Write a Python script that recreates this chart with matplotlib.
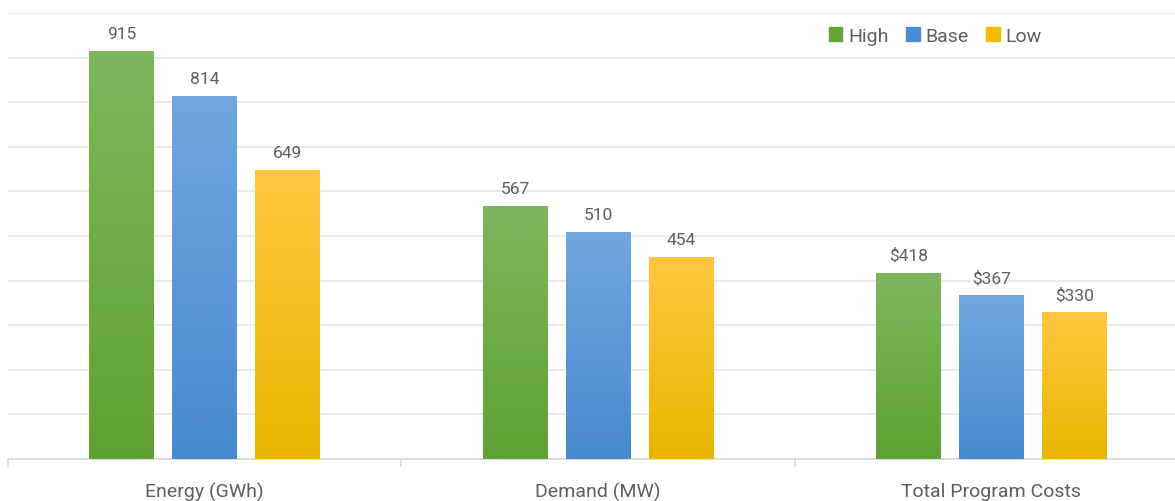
import matplotlib
matplotlib.use("Agg")
import matplotlib.pyplot as plt
import numpy as np
from matplotlib import font_manager
from matplotlib.colors import LinearSegmentedColormap
from matplotlib.patches import Rectangle

categories = ["Energy (GWh)", "Demand (MW)", "Total Program Costs"]
series_names = ["High", "Base", "Low"]
high = [915, 567, 418]
base = [814, 510, 367]
low = [649, 454, 330]
label_fmt = ["{}", "{}", "${}"]

top_colors = ["#7CB75C", "#70A7DF", "#FFC740"]
bot_colors = ["#5FA232", "#478ACF", "#EAB500"]
legend_colors = ["#62A53A", "#4A8DD2", "#F2BC00"]

names = {f.name for f in font_manager.fontManager.ttflist}
fam = "Liberation Sans Narrow" if "Liberation Sans Narrow" in names else "Roboto"
plt.rcParams["font.family"] = [fam, "DejaVu Sans"]
txt = "#5E5E5E"

fig = plt.figure(figsize=(11.75, 5.02), dpi=100)
ax = fig.add_axes([8/1175, 1-460/502, 1180/1175, 446/502])
ax.set_xlim(-0.5, 2.5)
ax.set_ylim(0, 1000)

x = np.arange(len(categories))
width = 0.165
offs = [-0.211, 0, 0.211]
allvals = [high, base, low]
for si, vals in enumerate(allvals):
    cmap = LinearSegmentedColormap.from_list("g%d" % si, [bot_colors[si], top_colors[si]])
    bars = ax.bar(x + offs[si], vals, width, color="none", zorder=3)
    for ci, b in enumerate(bars):
        h = vals[ci]
        xl = b.get_x()
        grad = np.linspace(0, 1, 256).reshape(-1, 1)
        im = ax.imshow(grad, extent=[xl, xl + width, 0, h], origin="lower",
                       aspect="auto", cmap=cmap, zorder=3)
        im.set_clip_path(b)
        ax.text(b.get_x() + width/2, h + 22, label_fmt[ci].format(h), ha="center",
                va="bottom", fontsize=12.5, color=txt, zorder=4)
ax.set_xlim(-0.5, 2.5)
ax.set_ylim(0, 1000)

ax.set_yticks(np.arange(0, 1001, 100))
ax.yaxis.grid(True, color="#E8E8E8", linewidth=1.2, zorder=0)
ax.set_axisbelow(True)
ax.tick_params(axis="y", length=0, labelleft=False)
for s in ["top", "right", "left"]:
    ax.spines[s].set_visible(False)
ax.spines["bottom"].set_color("#D9D9D9")
ax.spines["bottom"].set_linewidth(1.2)
ax.set_xticks([-0.5, 0.5, 1.5, 2.5])
ax.set_xticklabels([])
ax.tick_params(axis="x", length=6, color="#D9D9D9", width=1.2)
for ci, c in enumerate(categories):
    ax.text(x[ci], -72, c, ha="center", va="center", fontsize=14, color=txt)

handles = [Rectangle((0, 0), 1, 1, color=c) for c in legend_colors]
leg = ax.legend(handles, series_names, loc="upper left", bbox_to_anchor=(807/1180, 1.0),
                ncol=3, frameon=False, fontsize=14, handlelength=0.7, handleheight=0.7,
                handletextpad=0.3, columnspacing=0.9, borderaxespad=0.3)
for t in leg.get_texts():
    t.set_color(txt)

fig.savefig("out.png", dpi=100, facecolor="white")
